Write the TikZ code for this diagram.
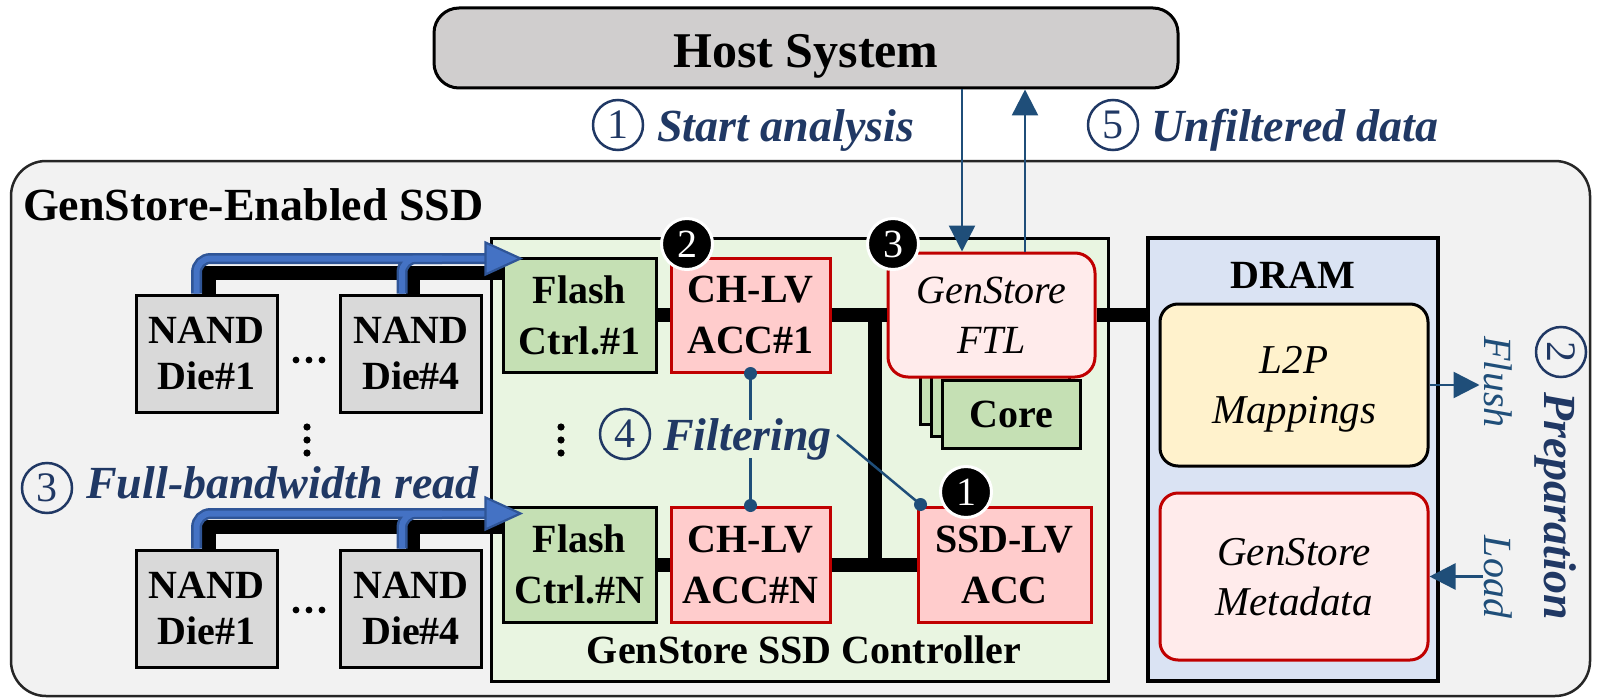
\documentclass[tikz,border=0pt]{standalone}
\usepackage{fontspec}
\setmainfont{Liberation Serif}
\usetikzlibrary{arrows.meta,calc}
\definecolor{tblue}{HTML}{203864}
\definecolor{ablue}{HTML}{1F4E79}
\definecolor{busblue}{HTML}{4472C4}
\definecolor{busedgec}{HTML}{2F5597}
\definecolor{ctrlg}{HTML}{E9F5E1}
\definecolor{greenbox}{HTML}{C5E0B4}
\definecolor{chred}{HTML}{FFCCCC}
\definecolor{redb}{HTML}{C00000}
\definecolor{pinkb}{HTML}{FFEBEB}
\definecolor{dramb}{HTML}{DAE3F3}
\definecolor{l2py}{HTML}{FFF2CC}
\definecolor{hostg}{HTML}{D0CECE}
\definecolor{ssdg}{HTML}{F2F2F2}
\definecolor{nandg}{HTML}{D9D9D9}
\begin{document}
\begin{tikzpicture}[x=1pt,y=-1pt,
  lbl/.style={inner sep=0pt, align=center, font=\bfseries\fontsize{40}{51}\selectfont},
  box/.style={lbl, draw=black, line width=3pt},
  nandbox/.style={box, fill=nandg, minimum width=141pt, minimum height=117pt, font=\bfseries\fontsize{40}{46}\selectfont},
  flashbox/.style={box, fill=greenbox, minimum width=153pt, minimum height=114pt},
  accbox/.style={box, draw=redb, fill=chred, minimum width=159pt, minimum height=114pt},
  itbox/.style={inner sep=0pt, align=center, line width=3pt, font=\itshape\fontsize{41}{50}\selectfont, text depth=0pt},
  cnum/.style={circle, draw=tblue, line width=2.5pt, minimum size=50pt, inner sep=0pt, text=tblue, font=\fontsize{42}{42}\selectfont},
  bnum/.style={circle, fill=black, draw=white, line width=3pt, minimum size=51pt, inner sep=0pt, text=white, font=\fontsize{40}{40}\selectfont},
  stxt/.style={inner sep=0pt, anchor=base west, text=tblue, font=\bfseries\itshape\fontsize{46}{46}\selectfont},
  wire/.style={line width=14pt, black},
  busline/.style={line width=11pt, busedgec, rounded corners=14pt},
  busfill/.style={line width=6pt, busblue, rounded corners=14pt},
  headstyle/.style={fill=busblue, draw=busedgec, line width=2.2pt, line join=miter},
  harrow/.style={ablue, line width=2.5pt, -{Triangle[length=26pt,width=26pt]}},
  fline/.style={ablue, line width=2.5pt}]

\useasboundingbox (0,0) rectangle (1597,698);
\fill[white] (0,0) rectangle (1597,698);

% outer SSD and host
\node[draw=black!85, fill=ssdg, line width=2.5pt, rounded corners=35pt, minimum width=1579pt, minimum height=535pt] (ssd) at (800.5,428.5) {};
\node[lbl, anchor=base west, font=\bfseries\fontsize{46}{46}\selectfont] (ssdt) at (23,220) {GenStore-Enabled SSD};
\node[draw=black, fill=hostg, line width=3pt, rounded corners=25pt, minimum width=744pt, minimum height=80pt, inner sep=0pt, text height=40pt, text depth=0pt, font=\bfseries\fontsize{50}{50}\selectfont] (host) at (806,48) {Host System};

% controller and DRAM
\node[draw=black, fill=ctrlg, line width=3pt, minimum width=617pt, minimum height=443pt] (ctrl) at (799.5,459.5) {};
\node[lbl, anchor=base] (ctrlt) at (804,663) {GenStore SSD Controller};
\node[draw=black, fill=dramb, line width=3.5pt, minimum width=290pt, minimum height=443pt] (dram) at (1293,459.5) {};
\node[lbl, anchor=base] (dramt) at (1293,288) {DRAM};
\node[itbox, draw=black, fill=l2py, rounded corners=18pt, minimum width=268pt, minimum height=162pt] (l2p) at (1294,385) {L2P\\Mappings};
\node[itbox, draw=redb, fill=pinkb, rounded corners=18pt, minimum width=268pt, minimum height=167pt] (meta) at (1294,576.5) {GenStore\\Metadata};

% NAND dies
\node[nandbox] (d1a) at (206.5,353.5) {NAND\\Die\#1};
\node[nandbox] (d4a) at (411,353.5) {NAND\\Die\#4};
\node[nandbox] (d1b) at (206.5,608.5) {NAND\\Die\#1};
\node[nandbox] (d4b) at (411,608.5) {NAND\\Die\#4};

% controller blocks
\node[flashbox] (flash1) at (579.5,315) {Flash\\Ctrl.\#1};
\node[accbox] (ch1) at (750.5,315) {CH-LV\\ACC\#1};
\node[flashbox, minimum height=115pt] (flashN) at (579.5,564.5) {Flash\\Ctrl.\#N};
\node[accbox, minimum height=115pt] (chN) at (750.5,564.5) {CH-LV\\ACC\#N};
\node[accbox, minimum width=173pt, minimum height=115pt] (ssdlv) at (1004.5,564.5) {SSD-LV\\ACC};

% cores (stack) and FTL
\node[box, fill=greenbox, minimum width=138pt, minimum height=68pt] (coreC) at (989,390) {};
\node[box, fill=greenbox, minimum width=138pt, minimum height=68pt] (coreB) at (1000,402) {};
\node[box, fill=greenbox, minimum width=138pt, minimum height=68pt] (coreA) at (1011,414) {Core};
\node[itbox, draw=redb, fill=pinkb, rounded corners=20pt, minimum width=207pt, minimum height=124pt, font=\itshape\fontsize{40}{50}\selectfont] (ftl) at (991.5,315) {GenStore\\FTL};

% black wires inside controller
\draw[wire] (flash1.east) -- (ch1.west);
\draw[wire] (ch1.east) -- (ftl.west);
\draw[wire] (flashN.east) -- (chN.west);
\draw[wire] (chN.east) -- (ssdlv.west);
\draw[wire] (ftl.east) -- (ftl.east -| dram.west);
\coordinate (vb) at (875,315);
\draw[wire] (vb) -- (vb |- chN.east);

% channel buses (black)
\coordinate (k1) at ([xshift=2pt,yshift=21pt]d1a.north);
\draw[wire] ([xshift=2pt]d1a.north) -- (k1) -- (k1 -| flash1.west);
\draw[wire] ([xshift=2pt]d4a.north) -- ([xshift=2pt,yshift=21pt]d4a.north);
\coordinate (k2) at ([xshift=2pt,yshift=22pt]d1b.north);
\draw[wire] ([xshift=2pt]d1b.north) -- (k2) -- (k2 -| flashN.west);
\draw[wire] ([xshift=2pt]d4b.north) -- ([xshift=2pt,yshift=22pt]d4b.north);

% blue read arrows
\coordinate (ta) at ([yshift=35pt]d1a.north);
\coordinate (tipA) at ([xshift=19pt]ta -| flash1.west);
\coordinate (endA) at ([xshift=-15pt]ta -| flash1.west);
\coordinate (tb) at ([yshift=35pt]d1b.north);
\coordinate (tipB) at ([xshift=19pt]tb -| flashN.west);
\coordinate (endB) at ([xshift=-15pt]tb -| flashN.west);
\foreach \s in {busline,busfill}{
  \draw[\s] ([xshift=-10pt]d1a.north) |- (endA);
  \draw[\s] ([xshift=-9pt]d4a.north) -- ++(0,-35) -- ++(40,0);
  \draw[\s] ([xshift=-10pt]d1b.north) |- (endB);
  \draw[\s] ([xshift=-9pt]d4b.north) -- ++(0,-35) -- ++(40,0);
}
\draw[headstyle] (tipA) -- ++(-35,-16) -- ++(0,32) -- cycle;
\draw[headstyle] (tipB) -- ++(-35,-16) -- ++(0,32) -- cycle;

% ellipsis dots
\foreach \x in {296,309,322}{
  \fill (\x,360) circle (3.4pt);
  \fill (\x,610) circle (3.4pt);
}
\foreach \y in {427,440,453}{
  \fill (307,\y) circle (3.6pt);
  \fill (561,\y) circle (3.6pt);
}

% host arrows
\coordinate (hx1) at (962,0);
\coordinate (hx2) at (1025,0);
\draw[harrow] (host.south -| hx1) -- (ftl.north -| hx1);
\draw[harrow] (ftl.north -| hx2) -- (host.south -| hx2);

% DRAM flush / load
\draw[harrow] (l2p.east) -- ++(50,0);
\coordinate (ld) at ([xshift=53pt]meta.east);
\draw[harrow] (ld) -- (meta.east);
\node[inner sep=0pt, rotate=-90, text=ablue, font=\itshape\fontsize{40}{40}\selectfont] (flt) at (1498,382) {Flush};
\node[inner sep=0pt, rotate=-90, text=ablue, font=\itshape\fontsize{40}{40}\selectfont] (ldt) at (1498,577) {Load};
\node[cnum, rotate=-90] (c2) at (1561,352) {2};
\node[stxt, rotate=-90, anchor=center] (t2) at (1556,506) {Preparation};

% filtering connectors
\coordinate (f1) at (ch1.south |- 0,420);
\coordinate (f2) at (chN.north |- 0,458);
\coordinate (f3) at (837,435);
\draw[fline] (ch1.south) -- (f1);
\draw[fline] (f2) -- (chN.north);
\draw[fline] (f3) -- ([xshift=4pt,yshift=1pt]ssdlv.north west);
\fill[ablue] (ch1.south) circle (6.5pt);
\fill[ablue] (chN.north) circle (6.5pt);
\fill[ablue] ([xshift=4pt,yshift=1pt]ssdlv.north west) circle (6.5pt);

% step labels
\node[cnum] (c1) at (618,125) {1};
\node[stxt] (t1) at (657,142) {Start analysis};
\node[cnum] (c5) at (1113,125) {5};
\node[stxt] (t5) at (1151,142) {Unfiltered data};
\node[cnum] (c4) at (625,434) {4};
\node[stxt] (t4) at (663,450) {Filtering};
\node[cnum] (c3) at (47,488) {3};
\node[stxt] (t3) at (86,498) {Full-bandwidth read};

% black numbered markers
\node[bnum] (b2) at (687,244) {2};
\node[bnum] (b3) at (893,244) {3};
\node[bnum] (b1) at (966,492) {1};
\end{tikzpicture}
\end{document}
